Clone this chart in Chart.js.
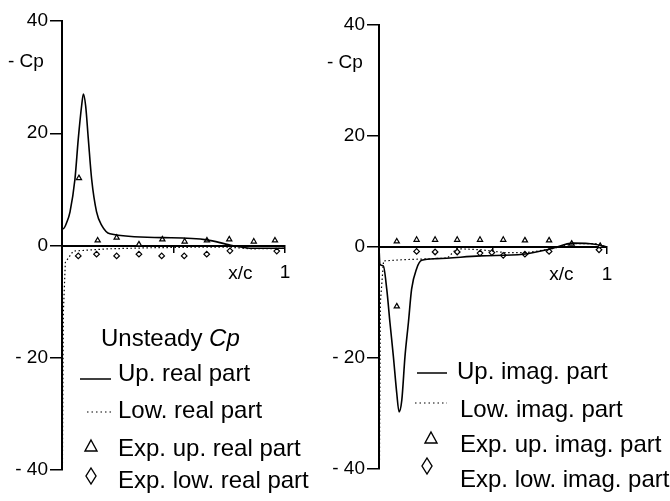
<!DOCTYPE html>
<html>
<head>
<meta charset="utf-8">
<script src="https://cdn.jsdelivr.net/npm/chart.js@4"></script>
<style>
  html, body { margin: 0; padding: 0; background: #fff; }
  #wrap { position: relative; width: 670px; height: 501px; }
  canvas { position: absolute; top: 0; }
  #left { left: 0; }
  #right { left: 320px; }
</style>
</head>
<body>
<div id="wrap">
  <canvas id="left" width="320" height="501"></canvas>
  <canvas id="right" width="350" height="501"></canvas>
</div>
<script>
// ===== DATA =====
const yTicks = [-40, -20, 0, 20, 40];

// left panel: real part
const upRealX = [0, 0.006, 0.021, 0.036, 0.058, 0.073, 0.088, 0.096, 0.106, 0.118, 0.133, 0.155, 0.178, 0.215, 0.454, 0.65, 0.753, 0.857, 1];
const upRealY = [3.0, 3.0, 4.1, 6, 11.8, 19, 24.9, 27, 24.9, 19, 11.8, 6, 3.6, 2.1, 1.4, 1.0, 0.1, -0.5, -0.5];
const lowRealX = [0, 0.002, 0.006, 0.015, 0.05, 0.2, 0.4, 0.6, 0.75, 0.85, 1];
const lowRealY = [0, -39, -12, -3, -1.0, -0.6, -0.4, -0.3, -0.3, -0.6, -0.5];
const expUpRealX = [0.076, 0.16, 0.245, 0.345, 0.45, 0.55, 0.65, 0.75, 0.86, 0.955];
const expUpRealY = [12, 0.9, 1.4, 0.2, 1.1, 0.7, 0.9, 1.1, 0.7, 0.9];
const expLowRealX = [0.073, 0.155, 0.245, 0.345, 0.447, 0.548, 0.649, 0.753, 0.963];
const expLowRealY = [-1.85, -1.55, -1.85, -1.55, -1.85, -1.85, -1.55, -0.95, -1.0];

// right panel: imaginary part
const upImagX = [0, 0.004, 0.019, 0.034, 0.048, 0.063, 0.078, 0.088, 0.1, 0.114, 0.129, 0.143, 0.165, 0.187, 0.253, 0.443, 0.632, 0.75, 0.852, 0.947, 1];
const upImagY = [0, -3.1, -3.4, -7.6, -13.6, -19.7, -26.4, -29.7, -27.6, -19.7, -13.6, -7.6, -3.9, -2.4, -2.1, -1.6, -1.3, -0.36, 0.7, 0.5, 0];
const lowImagX = [0, 0.002, 0.006, 0.02, 0.1, 0.3, 0.34, 0.45, 0.55, 0.65, 0.75, 0.85, 0.95, 1];
const lowImagY = [0, -39, -10, -2.5, -2.3, -2.0, -0.3, -0.5, -1.0, -1.0, -0.4, 0.6, 0.6, 0];
const expUpImagX = [0.078, 0.078, 0.165, 0.246, 0.343, 0.443, 0.545, 0.64, 0.746, 0.845, 0.97];
const expUpImagY = [1.0, -10.7, 1.3, 1.3, 1.3, 1.3, 1.3, 1.2, 1.2, 0.6, 0.2];
const expLowImagX = [0.165, 0.246, 0.343, 0.443, 0.495, 0.545, 0.64, 0.746, 0.965];
const expLowImagY = [-0.8, -0.9, -0.9, -1.1, -1.0, -1.5, -1.3, -0.8, -0.5];

const FAMILY = '"Liberation Sans", Arial, sans-serif';
const FS = 19;      // axis labels
const LFS = 24;     // legend

const pts = (xs, ys) => xs.map((x, i) => ({ x, y: ys[i] }));

// ===== LEGEND / LABEL PLUGIN =====
const notes = {
  id: 'notes',
  afterDraw(chart, args, opts) {
    const ctx = chart.ctx;
    const xs = chart.scales.x, ys = chart.scales.y;
    ctx.save();
    ctx.fillStyle = '#000';
    ctx.strokeStyle = '#000';
    ctx.textBaseline = 'middle';

    // axis title and x label
    ctx.font = `${FS}px ${FAMILY}`;
    ctx.textAlign = 'left';
    ctx.fillText('- Cp', opts.cpX, opts.cpY);
    ctx.textAlign = 'center';
    ctx.fillText('x/c', xs.getPixelForValue(opts.xcAt), ys.getPixelForValue(0) + 28);

    // legend entries
    ctx.font = `${LFS}px ${FAMILY}`;
    ctx.textAlign = 'left';
    if (opts.title) {
      ctx.fillText('Unsteady ', opts.title[0], opts.title[1]);
      const w = ctx.measureText('Unsteady ').width;
      ctx.font = `italic ${LFS}px ${FAMILY}`;
      ctx.fillText('Cp', opts.title[0] + w, opts.title[1]);
      ctx.font = `${LFS}px ${FAMILY}`;
    }
    opts.items.forEach(it => {
      ctx.lineWidth = 1.5;
      ctx.setLineDash([]);
      if (it.kind === 'solid' || it.kind === 'dot') {
        if (it.kind === 'dot') { ctx.setLineDash([1.5, 3]); ctx.lineWidth = 1.2; }
        ctx.beginPath();
        ctx.moveTo(it.sx, it.sy);
        ctx.lineTo(it.sx + it.len, it.sy);
        ctx.stroke();
        ctx.setLineDash([]);
      } else if (it.kind === 'tri') {
        ctx.lineWidth = 1.4;
        ctx.beginPath();
        ctx.moveTo(it.sx, it.sy - 6);
        ctx.lineTo(it.sx + 6, it.sy + 5);
        ctx.lineTo(it.sx - 6, it.sy + 5);
        ctx.closePath();
        ctx.stroke();
      } else if (it.kind === 'dia') {
        ctx.lineWidth = 1.4;
        ctx.beginPath();
        ctx.moveTo(it.sx, it.sy - 8);
        ctx.lineTo(it.sx + 5, it.sy);
        ctx.lineTo(it.sx, it.sy + 8);
        ctx.lineTo(it.sx - 5, it.sy);
        ctx.closePath();
        ctx.stroke();
      }
      ctx.fillText(it.text, it.tx, it.ty);
    });
    ctx.restore();
  }
};

function makeChart(id, sets, padding, yWidth, noteOpts) {
  const [upX, upY, lowX, lowY, eUx, eUy, eLx, eLy] = sets;
  return new Chart(document.getElementById(id), {
    type: 'scatter',
    data: {
      datasets: [
        { data: pts(upX, upY), showLine: true, borderColor: '#000', borderWidth: 1.6, pointRadius: 0, cubicInterpolationMode: 'monotone' },
        { data: pts(lowX, lowY), showLine: true, borderColor: '#000', borderWidth: 1.2, borderDash: [1.5, 2.5], pointRadius: 0 },
        { data: pts(eUx, eUy), showLine: false, pointStyle: 'triangle', pointRadius: 3, borderColor: '#000', borderWidth: 1.2, backgroundColor: '#fff' },
        { data: pts(eLx, eLy), showLine: false, pointStyle: 'rectRot', pointRadius: 2.8, borderColor: '#000', borderWidth: 1.2, backgroundColor: '#fff' }
      ]
    },
    options: {
      responsive: false,
      animation: false,
      layout: { padding },
      plugins: { legend: { display: false }, tooltip: { enabled: false }, notes: noteOpts },
      scales: {
        x: {
          type: 'linear', min: 0, max: 1, position: { y: 0 },
          afterBuildTicks: s => { s.ticks = [{ value: 0.5 }, { value: 1 }]; },
          ticks: { color: '#000', font: { size: FS, family: FAMILY }, padding: 10, maxRotation: 0, callback: v => (v === 1 ? '1' : '') },
          grid: { drawOnChartArea: false, drawTicks: true, tickLength: 6, color: '#000', lineWidth: 1.5 },
          border: { color: '#000', width: 2 }
        },
        y: {
          min: -40, max: 40,
          afterBuildTicks: s => { s.ticks = yTicks.map(v => ({ value: v })); },
          afterFit: s => { s.width = yWidth; },
          ticks: { color: '#000', font: { size: FS, family: FAMILY }, padding: 2, callback: v => (v < 0 ? '- ' + (-v) : String(v)) },
          grid: { drawOnChartArea: false, drawTicks: true, tickLength: 12, color: '#000', lineWidth: 1.5 },
          border: { color: '#000', width: 2 }
        }
      }
    },
    plugins: [notes]
  });
}

makeChart('left',
  [upRealX, upRealY, lowRealX, lowRealY, expUpRealX, expUpRealY, expLowRealX, expLowRealY],
  { top: 21, right: 35, bottom: 31, left: 0 }, 62,
  {
    cpX: 8, cpY: 62, xcAt: 0.8,
    title: [101, 339],
    items: [
      { kind: 'solid', sx: 80, sy: 379, len: 31, text: 'Up. real part', tx: 118, ty: 374 },
      { kind: 'dot', sx: 87, sy: 412, len: 25, text: 'Low. real part', tx: 118, ty: 411 },
      { kind: 'tri', sx: 91, sy: 446, text: 'Exp. up. real part', tx: 118, ty: 449 },
      { kind: 'dia', sx: 91, sy: 476, text: 'Exp. low. real part', tx: 118, ty: 481 }
    ]
  });

makeChart('right',
  [upImagX, upImagY, lowImagX, lowImagY, expUpImagX, expUpImagY, expLowImagX, expLowImagY],
  { top: 25, right: 63, bottom: 32, left: 0 }, 59,
  {
    cpX: 7, cpY: 63, xcAt: 0.8,
    items: [
      { kind: 'solid', sx: 97, sy: 373, len: 30, text: 'Up. imag. part', tx: 137, ty: 372 },
      { kind: 'dot', sx: 95, sy: 403, len: 32, text: 'Low. imag. part', tx: 140, ty: 410 },
      { kind: 'tri', sx: 111, sy: 438, text: 'Exp. up. imag. part', tx: 140, ty: 445 },
      { kind: 'dia', sx: 107, sy: 466, text: 'Exp. low. imag. part', tx: 140, ty: 480 }
    ]
  });
</script>
</body>
</html>
